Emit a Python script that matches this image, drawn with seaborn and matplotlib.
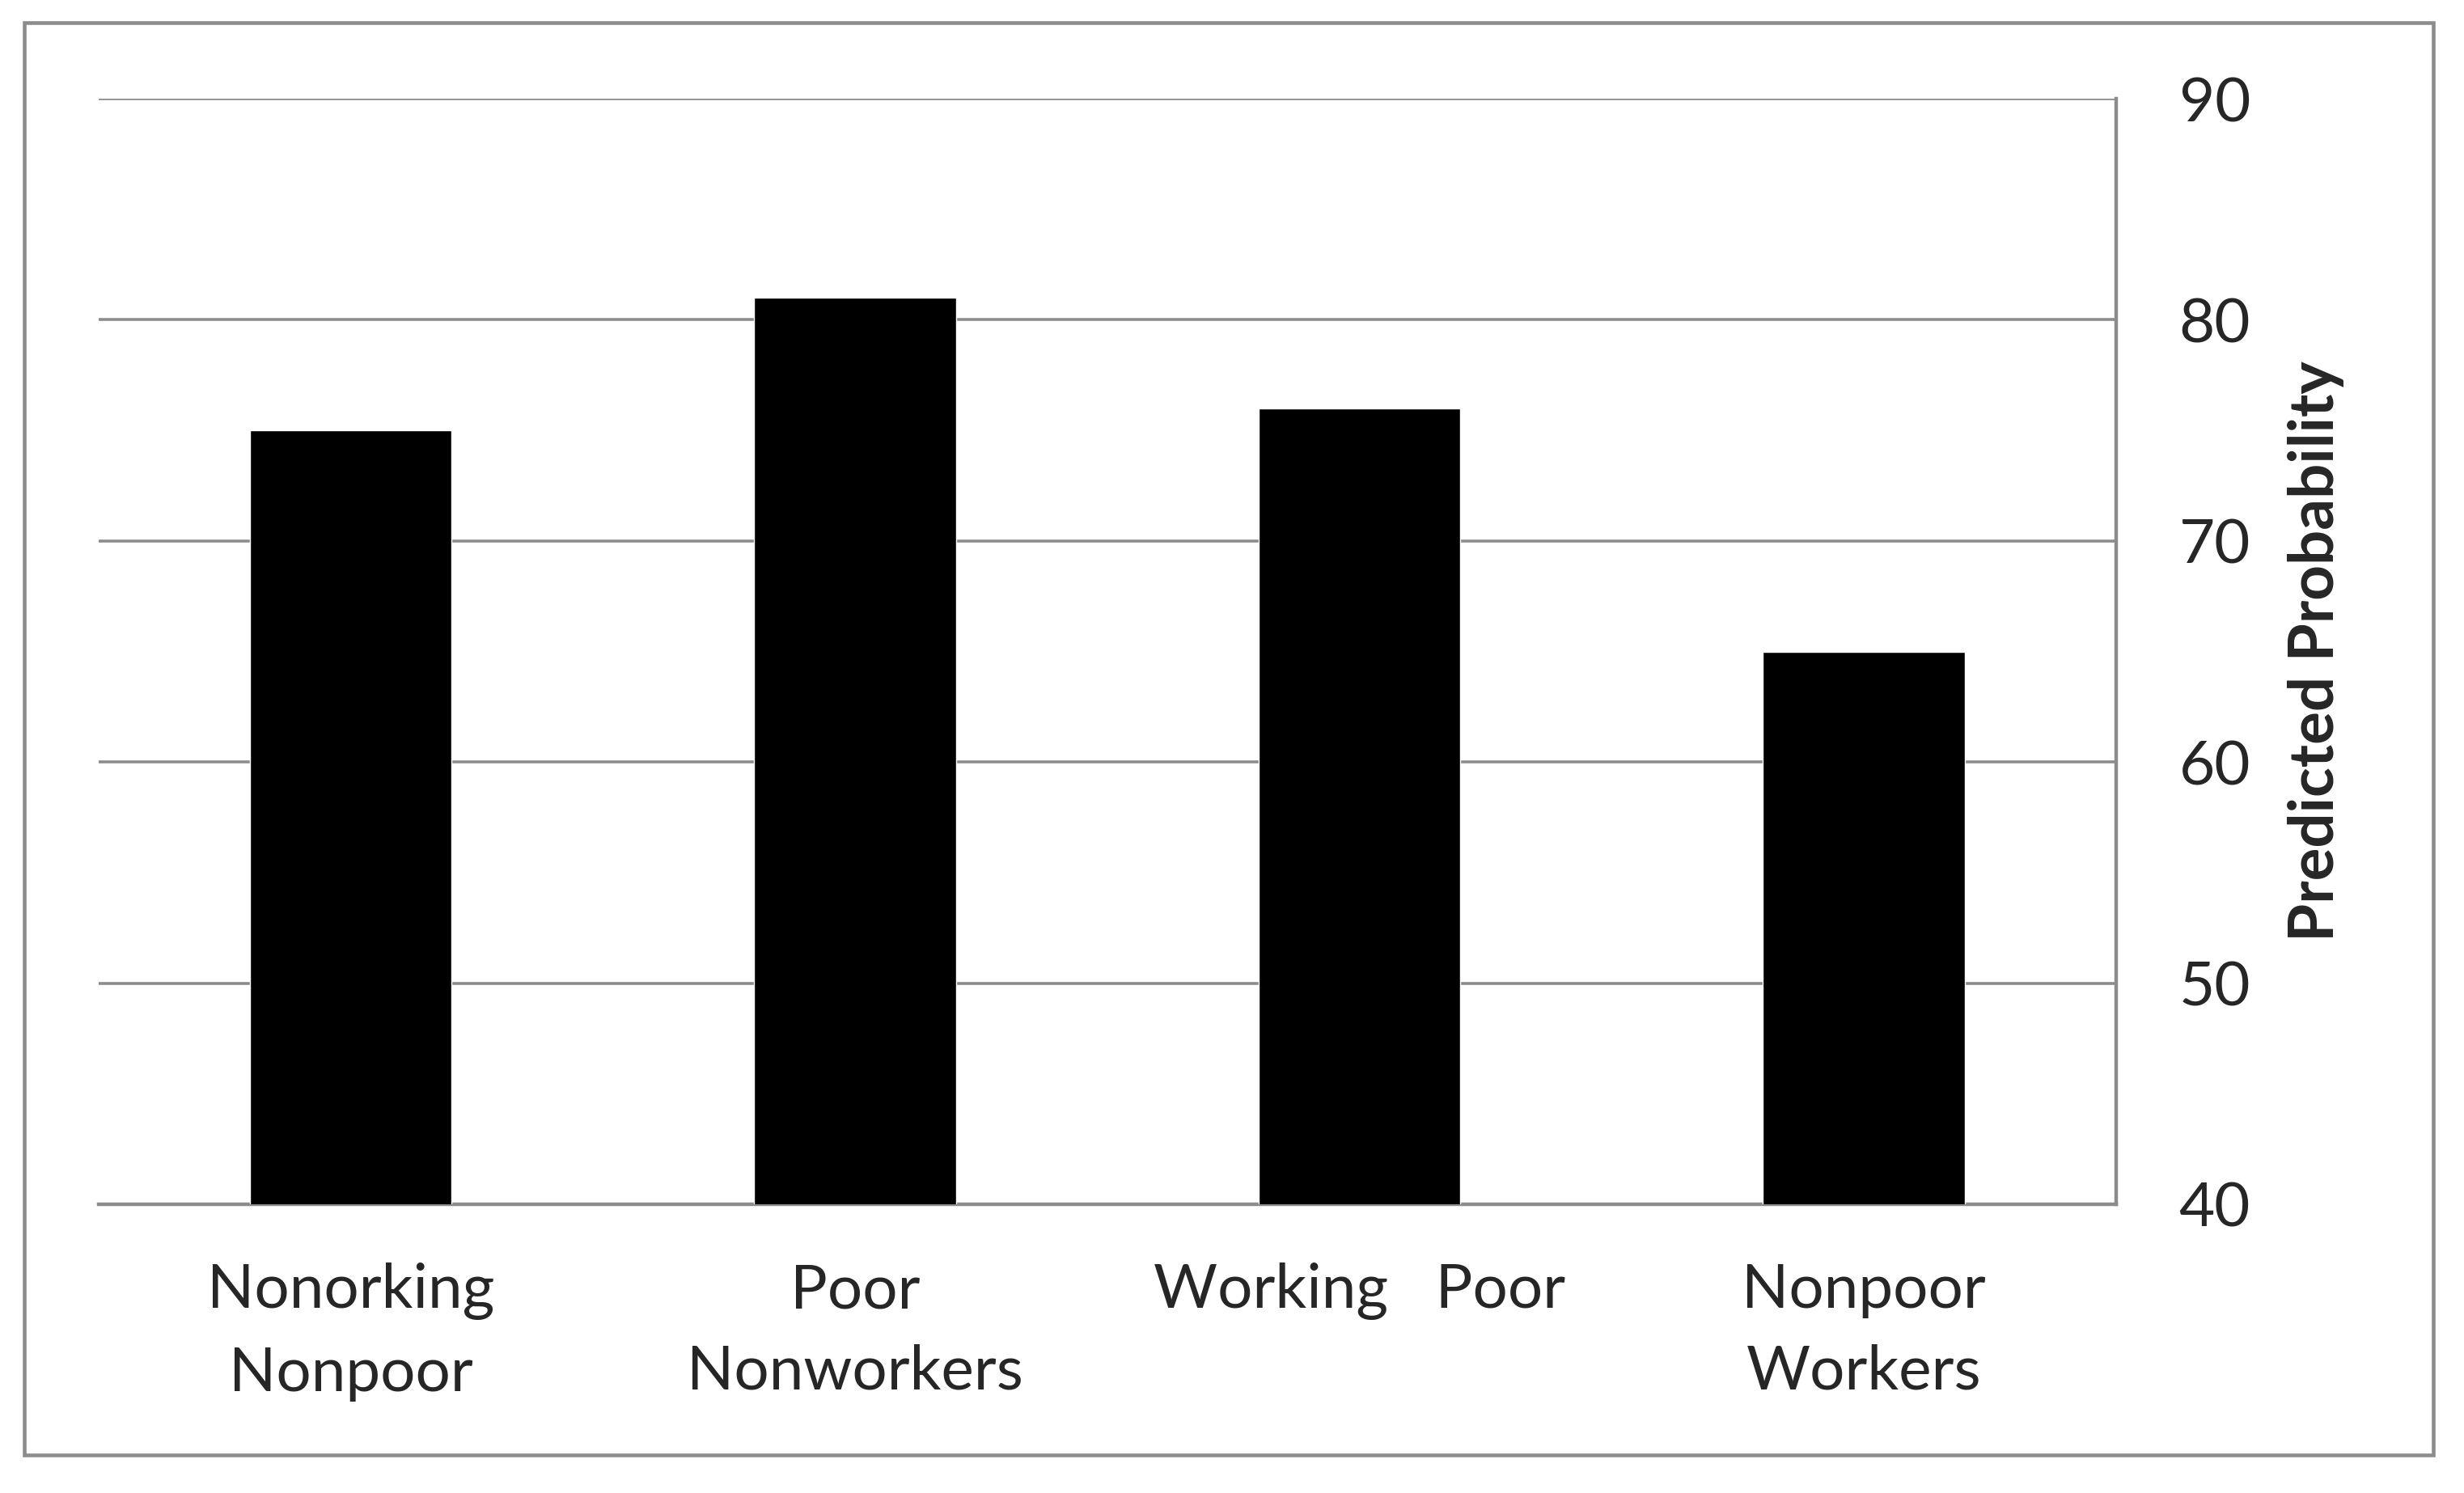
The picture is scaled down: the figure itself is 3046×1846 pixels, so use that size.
import matplotlib
matplotlib.use('Agg')
import matplotlib.pyplot as plt
import seaborn as sns
import pandas as pd
from matplotlib.patches import Rectangle

# chart values
groups = ['Nonorking\nNonpoor', 'Poor\nNonworkers', 'Working   Poor', 'Nonpoor\nWorkers']
probs = [75, 81, 76, 65]
yticks = [40, 50, 60, 70, 80, 90]

df = pd.DataFrame({'group': groups, 'prob': probs})

sns.set_style('white')
plt.rcParams['font.family'] = ['Lato', 'DejaVu Sans']

grid_col = '#8c8c8c'

fig = plt.figure(figsize=(30.46, 18.46), dpi=100)
ax = fig.add_axes([0.04005, 0.1934, 0.8187, 0.7405])

sns.barplot(data=df, x='group', y='prob', order=groups, color='black',
            saturation=1, width=0.4, ax=ax, zorder=3)

ax.set_ylim(40, 90)
ax.set_yticks(yticks)
ax.yaxis.tick_right()
ax.grid(axis='y', color=grid_col, linewidth=2.6, zorder=0)
ax.grid(axis='x', visible=False)

for s in ['left', 'top']:
    ax.spines[s].set_visible(False)
for s in ['right', 'bottom']:
    ax.spines[s].set_color(grid_col)
    ax.spines[s].set_linewidth(3.2)

ax.tick_params(axis='y', which='both', length=0, pad=56, labelsize=55,
               labelright=True, labelleft=False)
ax.tick_params(axis='x', length=0, pad=52, labelsize=55)
for lbl in ax.get_xticklabels():
    lbl.set_linespacing(1.56)
for lbl in ax.get_yticklabels():
    lbl.set_horizontalalignment('left')

ax.set_xlabel('')
ax.set_ylabel('Predicted Probability', fontsize=55, fontweight='bold')
ax.yaxis.set_label_position('right')
ax.yaxis.label.set_verticalalignment('center')
ax.yaxis.set_label_coords(1.099, 0.5)

# outer frame around the whole chart
fig.patches.append(Rectangle((30 / 3046, 1 - 1799 / 1846), 2978 / 3046, 1771 / 1846,
                             transform=fig.transFigure, fill=False,
                             edgecolor=grid_col, linewidth=3.3))

fig.savefig('out.png', dpi=100, facecolor='white')
